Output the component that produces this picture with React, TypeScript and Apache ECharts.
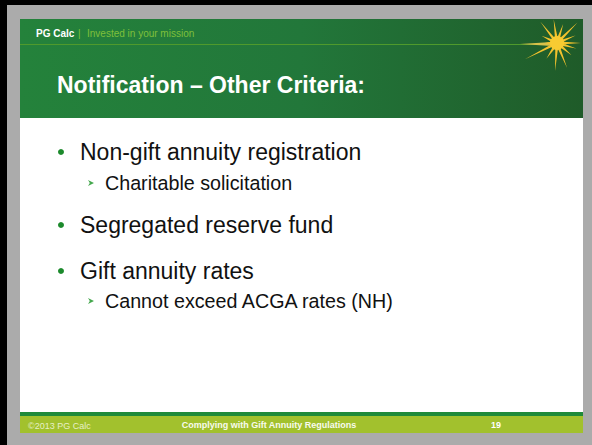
import React, { useEffect, useRef } from "react";
import * as echarts from "echarts";

const brand = "PG Calc";
const tagline = "Invested in your mission";
const title = "Notification – Other Criteria:";
const bullets = ["Non-gift annuity registration", "Segregated reserve fund", "Gift annuity rates"];
const bulletY = [152, 225, 271];
const subBullets = ["Charitable solicitation", "Cannot exceed ACGA rates (NH)"];
const subBulletY = [183, 301];
const footerLeft = "©2013 PG Calc";
const footerCenter = "Complying with Gift Annuity Regulations";
const pageNumber = "19";

// star logo rays: [angle deg, length]
const rays: [number, number][] = [
  [0, 24], [22, 20], [45, 29], [72, 20], [98, 24], [128, 27], [155, 17],
  [180, 12], [207, 36], [236, 19], [266, 28], [292, 27], [320, 19], [344, 20],
];

const FONT = "'Liberation Sans', Arial, Helvetica, sans-serif";

function starPoints(cx: number, cy: number): number[][] {
  const pts: number[][] = [];
  const inner = 6.5;
  rays.forEach(([a, l], i) => {
    const r = (a * Math.PI) / 180;
    const w = 0.2;
    pts.push([cx + Math.cos(r - w) * inner, cy - Math.sin(r - w) * inner]);
    pts.push([cx + Math.cos(r) * l, cy - Math.sin(r) * l]);
    pts.push([cx + Math.cos(r + w) * inner, cy - Math.sin(r + w) * inner]);
    const next = rays[(i + 1) % rays.length][0];
    const mid = (a + (next < a ? next + 360 : next)) / 2;
    const mr = (mid * Math.PI) / 180;
    pts.push([cx + Math.cos(mr) * inner, cy - Math.sin(mr) * inner]);
  });
  return pts;
}

export default function App() {
  const ref = useRef<HTMLDivElement>(null);
  useEffect(() => {
    document.body.style.margin = "0";
    const chart = echarts.init(ref.current!, null, { renderer: "svg" });
    const L = 20, R = 583, T = 19, B = 433;
    const elements: any[] = [];
    const mid = { textVerticalAlign: "middle", verticalAlign: "middle" };
    // page background
    elements.push({ type: "rect", shape: { x: 0, y: 0, width: 592, height: 445 }, style: { fill: "#ababab" } });
    elements.push({ type: "rect", shape: { x: 0, y: 0, width: 592, height: 5 }, style: { fill: "#000" } });
    elements.push({ type: "rect", shape: { x: 0, y: 0, width: 7, height: 445 }, style: { fill: "#000" } });
    // slide
    elements.push({ type: "rect", shape: { x: L, y: T, width: R - L, height: B - T }, style: { fill: "#ffffff" } });
    // header
    elements.push({
      type: "rect",
      shape: { x: L, y: T, width: R - L, height: 118 - T },
      style: {
        fill: new echarts.graphic.LinearGradient(0, 0, 1, 0, [
          { offset: 0, color: "#24823b" },
          { offset: 0.5, color: "#22773a" },
          { offset: 1, color: "#1f5b29" },
        ]),
      },
    });
    elements.push({ type: "line", shape: { x1: L, y1: 44.5, x2: 548, y2: 44.5 }, style: { stroke: "#4f9a2c", lineWidth: 1 } });
    elements.push({
      type: "polygon",
      shape: { points: [[520, 44], [552, 42], [552, 46]] },
      style: { fill: "#d8c24a" },
    });
    elements.push({ type: "polygon", shape: { points: starPoints(557, 43) }, style: { fill: "#f3c22d" } });
    elements.push({ type: "circle", shape: { cx: 557, cy: 43, r: 7 }, style: { fill: "#f7cb32" } });
    elements.push({ type: "text", style: { x: 36, y: 33, text: brand, fill: "#ffffff", font: `bold 10px ${FONT}`, ...mid } });
    elements.push({ type: "text", style: { x: 78, y: 33, text: "|", fill: "#7fc03a", font: `10px ${FONT}`, ...mid } });
    elements.push({ type: "text", style: { x: 87, y: 33, text: tagline, fill: "#7fc03a", font: `10px ${FONT}`, ...mid } });
    elements.push({ type: "text", style: { x: 57, y: 85, text: title, fill: "#ffffff", font: `bold 23px ${FONT}`, ...mid } });
    // bullets
    bullets.forEach((b, i) => {
      elements.push({ type: "circle", shape: { cx: 61, cy: bulletY[i], r: 3 }, style: { fill: "#1c8a2c" } });
      elements.push({ type: "text", style: { x: 80, y: bulletY[i], text: b, fill: "#111111", font: `23px ${FONT}`, ...mid } });
    });
    subBullets.forEach((s, i) => {
      const y = subBulletY[i];
      elements.push({
        type: "polygon",
        shape: { points: [[88, y - 3], [94, y], [88, y + 3], [89.8, y]] },
        style: { fill: "#45a84e" },
      });
      elements.push({ type: "text", style: { x: 105, y, text: s, fill: "#111111", font: `19.7px ${FONT}`, ...mid } });
    });
    // footer
    elements.push({ type: "rect", shape: { x: L, y: 412, width: R - L, height: 4 }, style: { fill: "#1f8a3a" } });
    elements.push({ type: "rect", shape: { x: L, y: 416, width: R - L, height: B - 416 }, style: { fill: "#a2c12d" } });
    elements.push({ type: "text", style: { x: 28, y: 426, text: footerLeft, fill: "#e6efc6", font: `9px ${FONT}`, ...mid } });
    elements.push({
      type: "text",
      style: { x: 269, y: 425, text: footerCenter, fill: "#f8fbee", font: `bold 9px ${FONT}`, textAlign: "center", align: "center", ...mid },
    });
    elements.push({
      type: "text",
      style: { x: 496, y: 425, text: pageNumber, fill: "#ffffff", font: `bold 9px ${FONT}`, textAlign: "center", align: "center", ...mid },
    });
    chart.setOption({ animation: false, graphic: { elements } });
    return () => chart.dispose();
  }, []);
  return <div ref={ref} style={{ width: 592, height: 445 }} />;
}
